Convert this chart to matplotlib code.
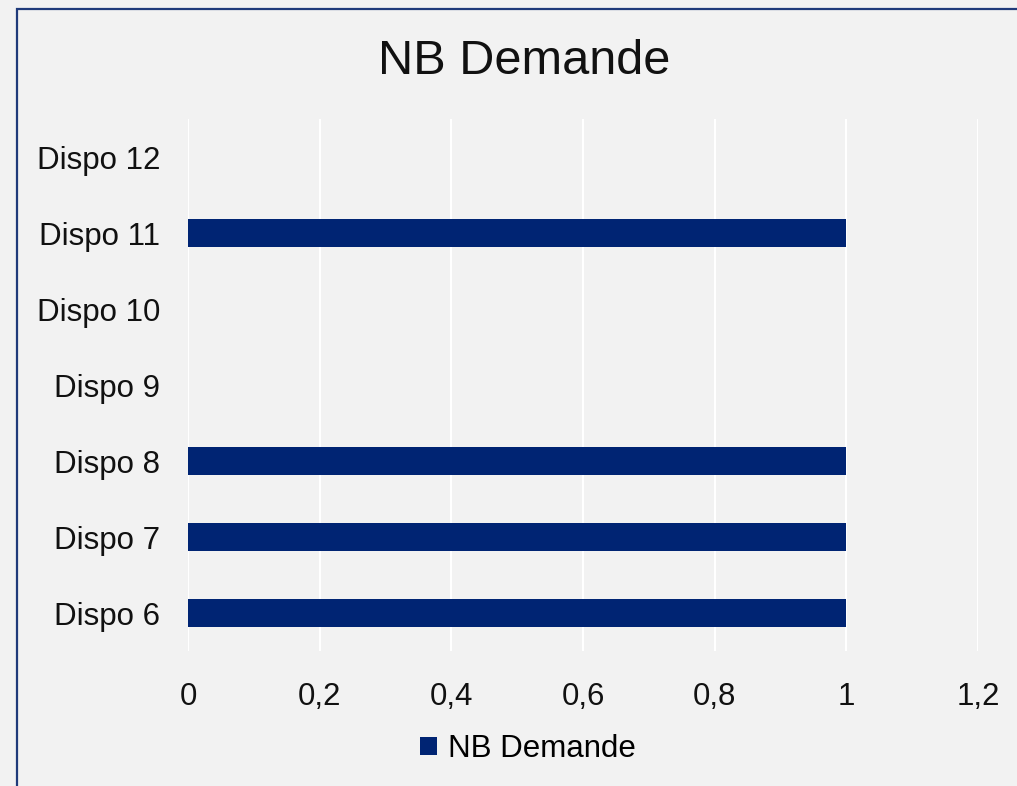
import matplotlib

matplotlib.use("Agg")
import matplotlib.pyplot as plt
from matplotlib.patches import Rectangle

categories = ["Dispo 6", "Dispo 7", "Dispo 8", "Dispo 9", "Dispo 10", "Dispo 11", "Dispo 12"]
nb_demande = [1, 1, 1, 0, 0, 1, 0]
x_ticks = [0, 0.2, 0.4, 0.6, 0.8, 1.0, 1.2]
x_labels = ["0", "0,2", "0,4", "0,6", "0,8", "1", "1,2"]

BG = "#F2F2F2"
BAR = "#002473"
W, H = 1017, 786

plt.rcParams["font.family"] = ["Liberation Sans", "DejaVu Sans"]

fig = plt.figure(figsize=(W / 100, H / 100), dpi=100, facecolor=BG)
ax = fig.add_axes([188 / W, 1 - 651 / H, (978 - 188) / W, (651 - 119) / H])
ax.set_facecolor(BG)

ypos = list(range(len(categories)))
ax.barh(ypos, nb_demande, height=0.36, color=BAR, label="NB Demande", zorder=3)

ax.set_xlim(0, 1.2)
ax.set_ylim(-0.5, len(categories) - 0.5)
ax.set_xticks(x_ticks)
ax.set_xticklabels(x_labels)
ax.set_yticks(ypos)
ax.set_yticklabels(categories)
ax.tick_params(axis="both", length=0, labelsize=22.5, colors="#111111")
ax.tick_params(axis="y", pad=20)
ax.tick_params(axis="x", pad=22)
ax.grid(axis="x", color="white", linewidth=1.5, zorder=0)
ax.grid(axis="y", visible=False)
for s in ax.spines.values():
    s.set_visible(False)

fig.text(524 / W, 1 - 62 / H, "NB Demande", ha="center", va="center", fontsize=35, color="#111111")

fig.legend(loc="center", bbox_to_anchor=(528 / W, 1 - 749 / H), frameon=False,
           fontsize=22.5, handlelength=0.55, handleheight=0.55, handletextpad=0.35)

# chart frame (only top and left edges visible in the crop)
fig.patches.append(Rectangle((17 / W, -0.05), 1.1, 1 - 9 / H + 0.05, transform=fig.transFigure,
                             fill=False, edgecolor="#1F3A7A", linewidth=1.6))

fig.savefig("out.png", dpi=100, facecolor=BG)
